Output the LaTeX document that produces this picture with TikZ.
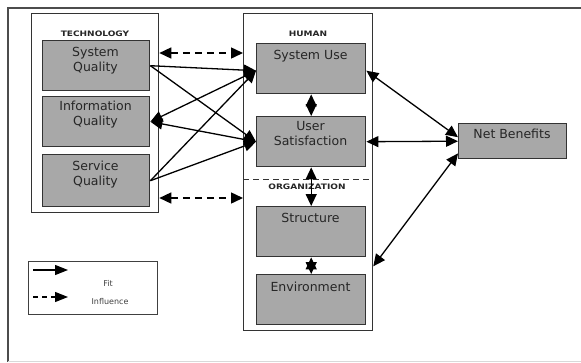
\documentclass[tikz,border=0pt]{standalone}
\usepackage{fontspec}
\setmainfont{DejaVu Sans}
\usetikzlibrary{arrows.meta,calc}
\newcommand{\widecaps}[1]{\scalebox{1.2}[1]{#1}}
\begin{document}
\begin{tikzpicture}[x=1pt,y=-1pt,
  outerframe/.style={draw=black!70,line width=1.3pt},
  groupbox/.style={draw=black!80,line width=1.3pt,fill=white,anchor=north west,inner sep=0pt},
  graybox/.style={draw=black!80,line width=1.4pt,fill=black!34,anchor=north west,inner sep=0pt},
  boxtext/.style={font=\fontsize{12.5}{15}\selectfont,text=black!85,align=center,inner sep=0pt},
  grpcap/.style={font=\fontsize{7.5}{9}\selectfont\bfseries,text=black!85,inner sep=0pt},
  fitarrow/.style={line width=1.3pt,black,{Triangle[length=12pt,width=11pt]}-{Triangle[length=12pt,width=11pt]}},
  fitone/.style={line width=1.3pt,black,-{Triangle[length=12pt,width=11pt]}},
  inflarrow/.style={line width=1.5pt,black,dash pattern=on 7pt off 5pt,{Triangle[length=12pt,width=11pt]}-{Triangle[length=12pt,width=11pt]}},
  legtext/.style={font=\fontsize{8}{10}\selectfont,text=black!75,inner sep=0pt}]
\useasboundingbox (0,0) rectangle (581,362);
\fill[white] (0,0) rectangle (581,362);
\draw[outerframe] (8,361.5) -- (8,8) -- (590,8);
\draw[black!15,line width=0.8pt] (8,361.5) -- (590,361.5);
% technology group
\node[groupbox,minimum width=127pt,minimum height=199pt] (tech) at (31,13) {};
\node[grpcap] (techl) at (95,34) {\widecaps{TECHNOLOGY}};
\node[graybox,minimum width=107pt,minimum height=50pt] (sq) at (42,40) {};
\node[boxtext] (sqt) at (95.5,60.5) {System\\Quality};
\node[graybox,minimum width=107pt,minimum height=50pt] (iq) at (42,96) {};
\node[boxtext] (iqt) at (95.5,114.5) {Information\\Quality};
\node[graybox,minimum width=107pt,minimum height=52pt] (seq) at (42,154) {};
\node[boxtext] (seqt) at (95.5,174.5) {Service\\Quality};
% human / organization group
\node[groupbox,minimum width=129pt,minimum height=317pt] (human) at (243,13) {};
\node[grpcap] (huml) at (308,34) {\widecaps{HUMAN}};
\node[graybox,minimum width=109pt,minimum height=50pt] (su) at (256,43) {};
\node[boxtext] (sut) at (310.5,56) {System Use};
\node[graybox,minimum width=109pt,minimum height=50pt] (us) at (256,116) {};
\node[boxtext] (ust) at (310.5,134) {User\\Satisfaction};
\coordinate (dl) at (243,179);
\coordinate (dr) at (372,179);
\draw[black!80,line width=1pt,dash pattern=on 6pt off 4pt] (dl) -- (dr);
\node[graybox,minimum width=109pt,minimum height=50pt] (st) at (256,206) {};
\node[boxtext] (stt) at (310.5,218) {Structure};
\node[graybox,minimum width=109pt,minimum height=50pt] (env) at (256,274) {};
\node[boxtext] (envt) at (310.5,287) {Environment};
\node[graybox,minimum width=108pt,minimum height=35pt] (nb) at (458,123) {};
\node[boxtext] (nbt) at (512,134) {Net Benefits};
% organization label (arrow passes over it)
\node[grpcap,fill=white,inner xsep=1pt] (orgl) at (307,187) {\widecaps{ORGANIZATION}};
% influence arrows
\draw[inflarrow] ($(tech.north east)+(0,40)$) -- ($(human.north west)+(0,40)$);
\draw[inflarrow] ($(tech.north east)+(0,185)$) -- ($(human.north west)+(0,185)$);
% fit arrows tech -> human
\draw[fitone] (sq.east) -- ($(su.west)+(0,2)$);
\draw[fitone] (sq.east) -- (us.west);
\draw[fitarrow] (iq.east) -- ($(su.west)+(0,2)$);
\draw[fitarrow] (iq.east) -- (us.west);
\draw[fitone] (seq.east) -- ($(su.west)+(0,2)$);
\draw[fitone] (seq.east) -- (us.west);
% vertical
\draw[fitarrow] (su.south) -- (us.north);
\draw[fitarrow] (us.south) -- (st.north);
\draw[fitarrow] (st.south) -- (env.north);
% net benefits
\draw[fitarrow] ($(su.east)+(0,2)$) -- ($(nb.west)+(0,-4)$);
\draw[fitarrow] (us.east) -- (nb.west);
\draw[fitarrow] ($(nb.south west)+(0,-6)$) -- ($(human.south east)+(0,-65)$);
% legend
\node[groupbox,draw=black!75,line width=1.1pt,minimum width=129pt,minimum height=53pt] (legend) at (28,261) {};
\coordinate (l1a) at (33,270);
\coordinate (l1b) at (68,270);
\coordinate (l2a) at (33,297);
\coordinate (l2b) at (68,297);
\draw[line width=1.2pt,-{Triangle[length=13pt,width=10pt]}] (l1a) -- (l1b);
\draw[line width=1.2pt,dash pattern=on 5pt off 4pt,-{Triangle[length=13pt,width=10pt]}] (l2a) -- (l2b);
\node[legtext] (fitl) at (108,283) {Fit};
\node[legtext] (infll) at (110,302) {Influence};
\end{tikzpicture}
\end{document}
